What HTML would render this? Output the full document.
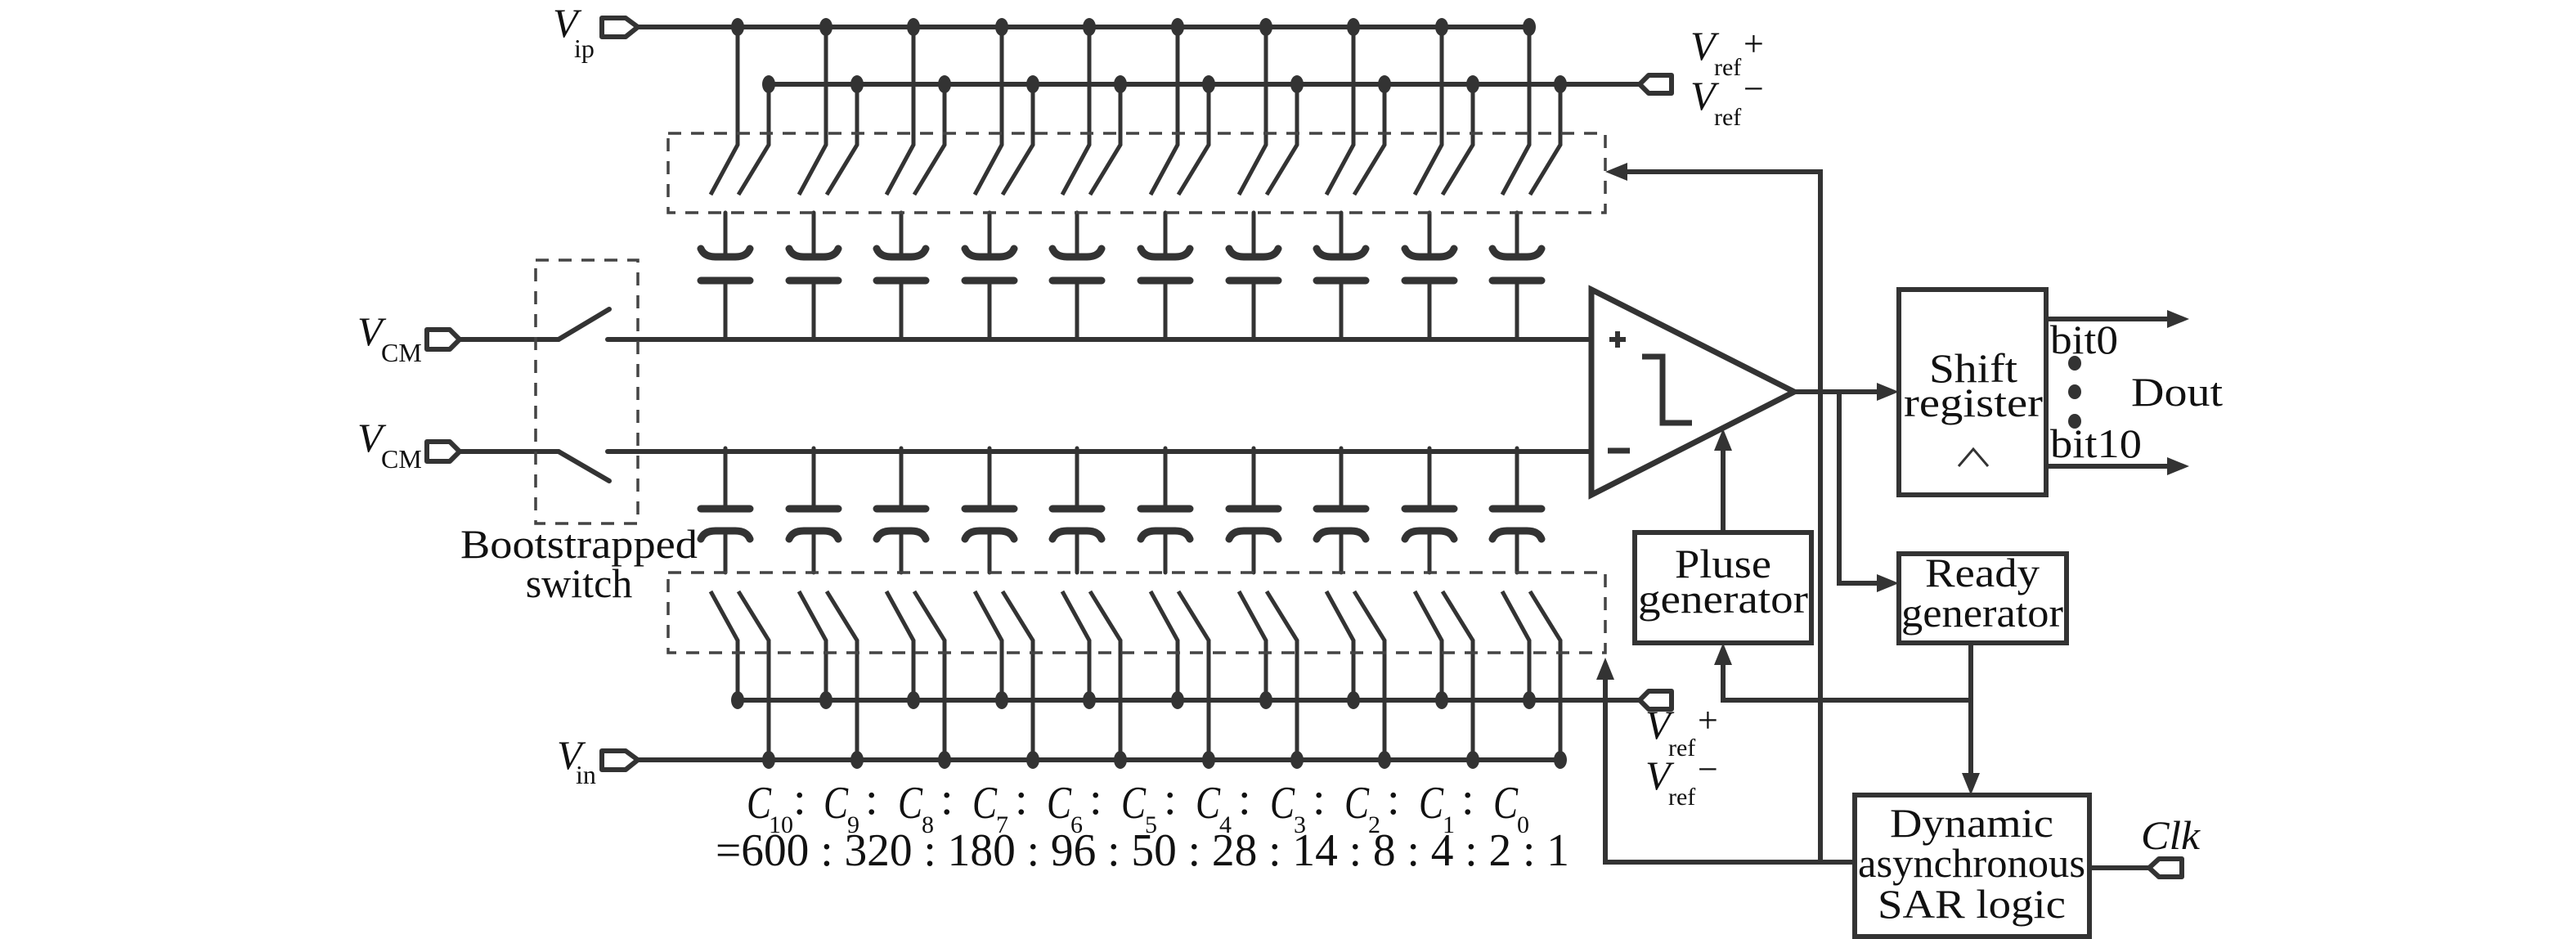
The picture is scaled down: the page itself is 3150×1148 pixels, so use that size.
<!DOCTYPE html>
<html><head><meta charset="utf-8"><style>
html,body{margin:0;padding:0;background:#fff;}
svg{display:block;}
text{font-family:"Liberation Serif","Times New Roman",serif;fill:#111;}
</style></head><body>
<svg width="3150" height="1148" viewBox="0 0 3150 1148" xmlns="http://www.w3.org/2000/svg">
<g stroke="#333" stroke-width="6" fill="none" stroke-linecap="round" stroke-linejoin="round">
<path d="M736,22 L765,22 L780,33 L765,45 L736,45 Z"/>
<path d="M736,918 L765,918 L780,929 L765,941 L736,941 Z"/>
<path d="M522,403 L550,403 L562,415 L550,427 L522,427 Z"/>
<path d="M522,540 L550,540 L562,552 L550,564 L522,564 Z"/>
<path d="M2044,92 L2016,92 L2005,103 L2016,114 L2044,114 Z"/>
<path d="M2044,845 L2016,845 L2005,856 L2016,867 L2044,867 Z"/>
<path d="M2668,1050 L2640,1050 L2628,1061 L2640,1072 L2668,1072 Z"/>
<line x1="780" y1="33" x2="1874" y2="33"/>
<line x1="941" y1="103" x2="2005" y2="103"/>
<line x1="905" y1="856" x2="2005" y2="856"/>
<line x1="780" y1="929" x2="1910" y2="929"/>
<line x1="562" y1="415" x2="683" y2="415"/>
<line x1="683" y1="415" x2="745" y2="378"/>
<line x1="743" y1="415" x2="1946" y2="415"/>
<line x1="562" y1="552" x2="683" y2="552"/>
<line x1="683" y1="552" x2="745" y2="588"/>
<line x1="743" y1="552" x2="1946" y2="552"/>
</g>
<g stroke="#333" stroke-width="5" fill="none">
<path d="
M902,33 V177 L869,238 M940,103 V177 L903,238
M1010,33 V177 L977,238 M1048,103 V177 L1011,238
M1117,33 V177 L1084,238 M1155,103 V177 L1118,238
M1225,33 V177 L1192,238 M1263,103 V177 L1226,238
M1332,33 V177 L1299,238 M1370,103 V177 L1333,238
M1440,33 V177 L1407,238 M1478,103 V177 L1441,238
M1548,33 V177 L1515,238 M1586,103 V177 L1549,238
M1655,33 V177 L1622,238 M1693,103 V177 L1656,238
M1763,33 V177 L1730,238 M1801,103 V177 L1764,238
M1870,33 V177 L1837,238 M1908,103 V177 L1871,238
M869,723 L902,783 V856 M903,723 L940,783 V929
M977,723 L1010,783 V856 M1011,723 L1048,783 V929
M1084,723 L1117,783 V856 M1118,723 L1155,783 V929
M1192,723 L1225,783 V856 M1226,723 L1263,783 V929
M1299,723 L1332,783 V856 M1333,723 L1370,783 V929
M1407,723 L1440,783 V856 M1441,723 L1478,783 V929
M1515,723 L1548,783 V856 M1549,723 L1586,783 V929
M1622,723 L1655,783 V856 M1656,723 L1693,783 V929
M1730,723 L1763,783 V856 M1764,723 L1801,783 V929
M1837,723 L1870,783 V856 M1871,723 L1908,783 V929
"/>
</g>
<g stroke="#333" fill="none" stroke-linecap="round">
<path stroke-width="5" d="
M887,260 V314 M887,343 V415 M887,548 V622 M887,650 V700
M995,260 V314 M995,343 V415 M995,548 V622 M995,650 V700
M1102,260 V314 M1102,343 V415 M1102,548 V622 M1102,650 V700
M1210,260 V314 M1210,343 V415 M1210,548 V622 M1210,650 V700
M1317,260 V314 M1317,343 V415 M1317,548 V622 M1317,650 V700
M1425,260 V314 M1425,343 V415 M1425,548 V622 M1425,650 V700
M1533,260 V314 M1533,343 V415 M1533,548 V622 M1533,650 V700
M1640,260 V314 M1640,343 V415 M1640,548 V622 M1640,650 V700
M1748,260 V314 M1748,343 V415 M1748,548 V622 M1748,650 V700
M1855,260 V314 M1855,343 V415 M1855,548 V622 M1855,650 V700"/>
<path stroke-width="9" d="
M857,304 Q861,314 875,314 H899 Q913,314 917,304 M857,343 H917 M857,622 H917 M857,659 Q861,649 875,649 H899 Q913,649 917,659
M965,304 Q969,314 983,314 H1007 Q1021,314 1025,304 M965,343 H1025 M965,622 H1025 M965,659 Q969,649 983,649 H1007 Q1021,649 1025,659
M1072,304 Q1076,314 1090,314 H1114 Q1128,314 1132,304 M1072,343 H1132 M1072,622 H1132 M1072,659 Q1076,649 1090,649 H1114 Q1128,649 1132,659
M1180,304 Q1184,314 1198,314 H1222 Q1236,314 1240,304 M1180,343 H1240 M1180,622 H1240 M1180,659 Q1184,649 1198,649 H1222 Q1236,649 1240,659
M1287,304 Q1291,314 1305,314 H1329 Q1343,314 1347,304 M1287,343 H1347 M1287,622 H1347 M1287,659 Q1291,649 1305,649 H1329 Q1343,649 1347,659
M1395,304 Q1399,314 1413,314 H1437 Q1451,314 1455,304 M1395,343 H1455 M1395,622 H1455 M1395,659 Q1399,649 1413,649 H1437 Q1451,649 1455,659
M1503,304 Q1507,314 1521,314 H1545 Q1559,314 1563,304 M1503,343 H1563 M1503,622 H1563 M1503,659 Q1507,649 1521,649 H1545 Q1559,649 1563,659
M1610,304 Q1614,314 1628,314 H1652 Q1666,314 1670,304 M1610,343 H1670 M1610,622 H1670 M1610,659 Q1614,649 1628,649 H1652 Q1666,649 1670,659
M1718,304 Q1722,314 1736,314 H1760 Q1774,314 1778,304 M1718,343 H1778 M1718,622 H1778 M1718,659 Q1722,649 1736,649 H1760 Q1774,649 1778,659
M1825,304 Q1829,314 1843,314 H1867 Q1881,314 1885,304 M1825,343 H1885 M1825,622 H1885 M1825,659 Q1829,649 1843,649 H1867 Q1881,649 1885,659"/>
</g>
<g fill="#333">
<ellipse cx="902" cy="33" rx="8" ry="11"/><ellipse cx="1010" cy="33" rx="8" ry="11"/><ellipse cx="1117" cy="33" rx="8" ry="11"/><ellipse cx="1225" cy="33" rx="8" ry="11"/><ellipse cx="1332" cy="33" rx="8" ry="11"/><ellipse cx="1440" cy="33" rx="8" ry="11"/><ellipse cx="1548" cy="33" rx="8" ry="11"/><ellipse cx="1655" cy="33" rx="8" ry="11"/><ellipse cx="1763" cy="33" rx="8" ry="11"/><ellipse cx="1870" cy="33" rx="8" ry="11"/>
<ellipse cx="940" cy="103" rx="8" ry="11"/><ellipse cx="1048" cy="103" rx="8" ry="11"/><ellipse cx="1155" cy="103" rx="8" ry="11"/><ellipse cx="1263" cy="103" rx="8" ry="11"/><ellipse cx="1370" cy="103" rx="8" ry="11"/><ellipse cx="1478" cy="103" rx="8" ry="11"/><ellipse cx="1586" cy="103" rx="8" ry="11"/><ellipse cx="1693" cy="103" rx="8" ry="11"/><ellipse cx="1801" cy="103" rx="8" ry="11"/><ellipse cx="1908" cy="103" rx="8" ry="11"/>
<ellipse cx="902" cy="856" rx="8" ry="11"/><ellipse cx="1010" cy="856" rx="8" ry="11"/><ellipse cx="1117" cy="856" rx="8" ry="11"/><ellipse cx="1225" cy="856" rx="8" ry="11"/><ellipse cx="1332" cy="856" rx="8" ry="11"/><ellipse cx="1440" cy="856" rx="8" ry="11"/><ellipse cx="1548" cy="856" rx="8" ry="11"/><ellipse cx="1655" cy="856" rx="8" ry="11"/><ellipse cx="1763" cy="856" rx="8" ry="11"/><ellipse cx="1870" cy="856" rx="8" ry="11"/>
<ellipse cx="940" cy="929" rx="8" ry="11"/><ellipse cx="1048" cy="929" rx="8" ry="11"/><ellipse cx="1155" cy="929" rx="8" ry="11"/><ellipse cx="1263" cy="929" rx="8" ry="11"/><ellipse cx="1370" cy="929" rx="8" ry="11"/><ellipse cx="1478" cy="929" rx="8" ry="11"/><ellipse cx="1586" cy="929" rx="8" ry="11"/><ellipse cx="1693" cy="929" rx="8" ry="11"/><ellipse cx="1801" cy="929" rx="8" ry="11"/><ellipse cx="1908" cy="929" rx="8" ry="11"/>
</g>
<g stroke="#444" stroke-width="3.5" fill="none" stroke-dasharray="16,12">
<rect x="817" y="163" width="1146" height="97"/>
<rect x="817" y="700" width="1146" height="98"/>
<rect x="655" y="318" width="125" height="322"/>
</g>
<g stroke="#333" stroke-width="6" fill="none" stroke-linejoin="miter">
<path d="M1946,354 L2194,479 L1946,605 Z" stroke-width="7"/>
<path d="M1968,415 H1988 M1978,405 V425" stroke-width="6"/>
<path d="M1966,551 H1993" stroke-width="7"/>
<path d="M2008,436 H2033 V517 H2069" stroke-width="7"/>
<rect x="2322" y="354" width="180" height="251"/>
<rect x="1999" y="651" width="216" height="135"/>
<rect x="2322" y="677" width="205" height="109"/>
<rect x="2268" y="972" width="287" height="173"/>
<path d="M2395,570 L2413,549 L2431,570" stroke-width="3"/>
<path d="M2194,479 H2300"/>
<path d="M2226,1054 V210 H1985"/>
<path d="M2249,479 V713 H2300"/>
<path d="M2107,651 V545"/>
<path d="M2410,856 H2107 V808"/>
<path d="M2410,786 V950"/>
<path d="M2268,1054 H1963 V826"/>
<path d="M2555,1061 H2628"/>
<path d="M2502,390 H2655"/>
<path d="M2502,570 H2655"/>
</g>
<g fill="#333">
<polygon points="1963,210 1990,199 1990,221"/>
<polygon points="2322,479 2295,468 2295,490"/>
<polygon points="2322,713 2295,702 2295,724"/>
<polygon points="2107,524 2096,551 2118,551"/>
<polygon points="2107,786 2096,813 2118,813"/>
<polygon points="2410,972 2399,945 2421,945"/>
<polygon points="1963,804 1952,831 1974,831"/>
<polygon points="2677,390 2650,379 2650,401"/>
<polygon points="2677,570 2650,559 2650,581"/>
<ellipse cx="2537" cy="444" rx="8" ry="9"/>
<ellipse cx="2537" cy="479" rx="8" ry="9"/>
<ellipse cx="2537" cy="515" rx="8" ry="9"/>
</g>
<g font-size="50">
<text x="676" y="45" font-style="italic">V</text><text x="702" y="70" font-size="32">ip</text>
<text x="681" y="940" font-style="italic">V</text><text x="704" y="958" font-size="32">in</text>
<text x="437" y="422" font-style="italic">V</text><text x="466" y="442" font-size="32">CM</text>
<text x="437" y="552" font-style="italic">V</text><text x="466" y="572" font-size="32">CM</text>
<text x="2067" y="73" font-style="italic">V</text><text x="2096" y="92" font-size="30">ref</text><text x="2132" y="68" font-size="44">+</text>
<text x="2067" y="134" font-style="italic">V</text><text x="2096" y="153" font-size="30">ref</text><text x="2132" y="123" font-size="44">−</text>
<text x="2012" y="903" font-style="italic">V</text><text x="2040" y="924" font-size="30">ref</text><text x="2076" y="895" font-size="44">+</text>
<text x="2012" y="965" font-style="italic">V</text><text x="2040" y="984" font-size="30">ref</text><text x="2076" y="955" font-size="44">−</text>
<text x="708" y="682" text-anchor="middle" textLength="290" lengthAdjust="spacingAndGlyphs">Bootstrapped</text>
<text x="708" y="730" text-anchor="middle">switch</text>
<text x="2413" y="467" text-anchor="middle" textLength="108" lengthAdjust="spacingAndGlyphs">Shift</text>
<text x="2413" y="509" text-anchor="middle" textLength="170" lengthAdjust="spacingAndGlyphs">register</text>
<text x="2507" y="432" textLength="83" lengthAdjust="spacingAndGlyphs">bit0</text>
<text x="2507" y="559" textLength="112" lengthAdjust="spacingAndGlyphs">bit10</text>
<text x="2606" y="496" textLength="112" lengthAdjust="spacingAndGlyphs">Dout</text>
<text x="2107" y="706" text-anchor="middle" textLength="118" lengthAdjust="spacingAndGlyphs">Pluse</text>
<text x="2107" y="749" text-anchor="middle" textLength="208" lengthAdjust="spacingAndGlyphs">generator</text>
<text x="2424" y="717" text-anchor="middle" textLength="140" lengthAdjust="spacingAndGlyphs">Ready</text>
<text x="2424" y="766" text-anchor="middle" textLength="198" lengthAdjust="spacingAndGlyphs">generator</text>
<text x="2411" y="1023" text-anchor="middle" textLength="200" lengthAdjust="spacingAndGlyphs">Dynamic</text>
<text x="2411" y="1072" text-anchor="middle" textLength="278" lengthAdjust="spacingAndGlyphs">asynchronous</text>
<text x="2411" y="1122" text-anchor="middle" textLength="230" lengthAdjust="spacingAndGlyphs">SAR logic</text>
<text x="2618" y="1038" font-style="italic" textLength="72" lengthAdjust="spacingAndGlyphs">Clk</text>
</g>
<g font-size="56">
<text x="913" y="1000" font-style="italic" textLength="30" lengthAdjust="spacingAndGlyphs">C</text><text x="940" y="1018" font-size="30">10</text><text x="970" y="995">:</text>
<text x="1007" y="1000" font-style="italic" textLength="30" lengthAdjust="spacingAndGlyphs">C</text><text x="1036" y="1018" font-size="30">9</text><text x="1058" y="995">:</text>
<text x="1098" y="1000" font-style="italic" textLength="30" lengthAdjust="spacingAndGlyphs">C</text><text x="1127" y="1018" font-size="30">8</text><text x="1150" y="995">:</text>
<text x="1189" y="1000" font-style="italic" textLength="30" lengthAdjust="spacingAndGlyphs">C</text><text x="1218" y="1018" font-size="30">7</text><text x="1241" y="995">:</text>
<text x="1280" y="1000" font-style="italic" textLength="30" lengthAdjust="spacingAndGlyphs">C</text><text x="1309" y="1018" font-size="30">6</text><text x="1332" y="995">:</text>
<text x="1371" y="1000" font-style="italic" textLength="30" lengthAdjust="spacingAndGlyphs">C</text><text x="1400" y="1018" font-size="30">5</text><text x="1423" y="995">:</text>
<text x="1462" y="1000" font-style="italic" textLength="30" lengthAdjust="spacingAndGlyphs">C</text><text x="1491" y="1018" font-size="30">4</text><text x="1514" y="995">:</text>
<text x="1553" y="1000" font-style="italic" textLength="30" lengthAdjust="spacingAndGlyphs">C</text><text x="1582" y="1018" font-size="30">3</text><text x="1605" y="995">:</text>
<text x="1644" y="1000" font-style="italic" textLength="30" lengthAdjust="spacingAndGlyphs">C</text><text x="1673" y="1018" font-size="30">2</text><text x="1696" y="995">:</text>
<text x="1735" y="1000" font-style="italic" textLength="30" lengthAdjust="spacingAndGlyphs">C</text><text x="1764" y="1018" font-size="30">1</text><text x="1787" y="995">:</text>
<text x="1826" y="1000" font-style="italic" textLength="30" lengthAdjust="spacingAndGlyphs">C</text><text x="1855" y="1018" font-size="30">0</text>
<text x="875" y="1058" textLength="1044" lengthAdjust="spacingAndGlyphs">=600 : 320 : 180 : 96 : 50 : 28 : 14 : 8 : 4 : 2 : 1</text>
</g>
</svg>
</body></html>
